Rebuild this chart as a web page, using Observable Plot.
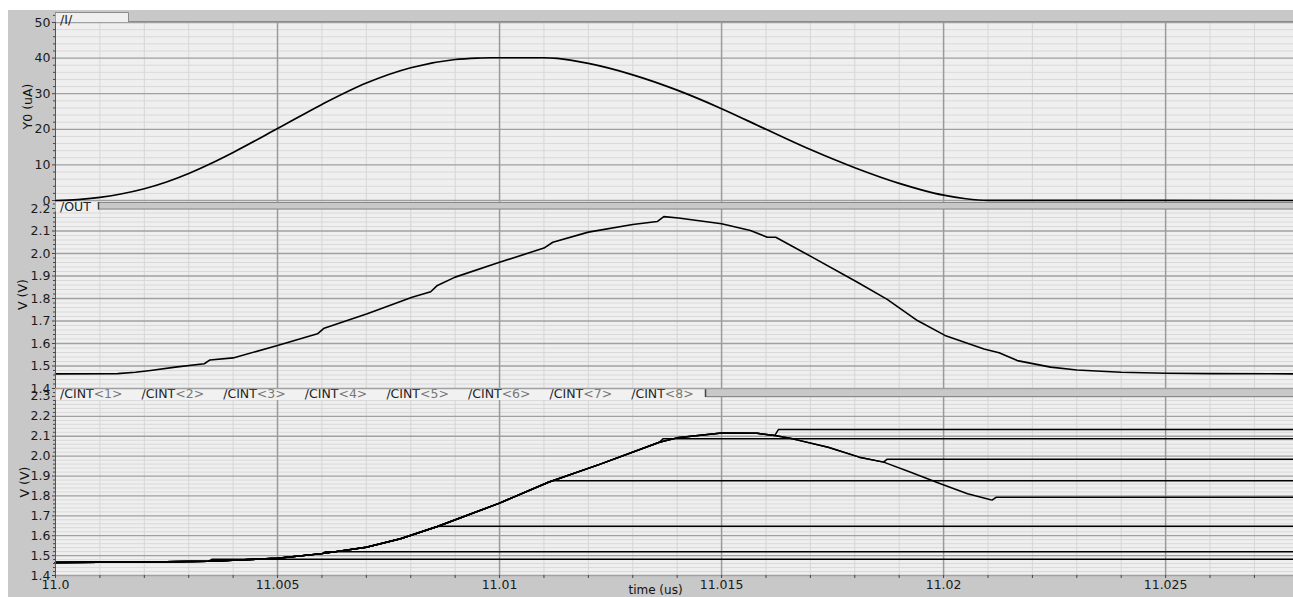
<!DOCTYPE html>
<html><head><meta charset="utf-8">
<script src="https://cdn.jsdelivr.net/npm/d3@7"></script>
<script src="https://cdn.jsdelivr.net/npm/@observablehq/plot@0.6"></script>
<style>
html,body{margin:0;padding:0;background:#fff;}
#wrap{position:absolute;left:8px;top:10px;width:1285px;height:587px;background:#c8c8c8;overflow:hidden;}
#wrap svg{position:absolute;left:0;}
</style></head><body><div id="wrap"></div>
<script>
// ---- axis ticks ----
const X0 = 11.0, X1 = 11.02788;
const xTicks = [11.0, 11.005, 11.01, 11.015, 11.02, 11.025];
const xTickLabels = ["11.0", "11.005", "11.01", "11.015", "11.02", "11.025"];
const xLabel = "time (us)";

const iTicks = [0, 10, 20, 30, 40, 50];
const iTickLabels = ["0", "10", "20", "30", "40", "50"];
const outTicks = [1.4, 1.5, 1.6, 1.7, 1.8, 1.9, 2.0, 2.1, 2.2];
const outTickLabels = ["1.4", "1.5", "1.6", "1.7", "1.8", "1.9", "2.0", "2.1", "2.2"];
const cintTicks = [1.4, 1.5, 1.6, 1.7, 1.8, 1.9, 2.0, 2.1, 2.2, 2.3];
const cintTickLabels = ["1.4", "1.5", "1.6", "1.7", "1.8", "1.9", "2.0", "2.1", "2.2", "2.3"];

// ---- panel 1: /I/ (uA) ----
const iTime = [11.0, 11.0005, 11.001, 11.0015, 11.002, 11.0025, 11.003, 11.0035, 11.004, 11.005, 11.006, 11.007, 11.008, 11.009, 11.0095, 11.0098, 11.011, 11.0113, 11.012, 11.013, 11.014, 11.015, 11.016, 11.017, 11.018, 11.019, 11.0195, 11.02, 11.0205, 11.021, 11.02788];
const iValue = [0, 0.25, 0.9, 1.9, 3.3, 5.2, 7.6, 10.4, 13.5, 20.2, 27, 33, 37.3, 39.6, 40, 40.1, 40.1, 39.9, 38.5, 35.3, 31, 25.8, 20, 14.3, 9.2, 4.8, 3, 1.5, 0.5, 0.05, 0];

// ---- panel 2: /OUT (V) ----
const outTime = [11.0, 11.0014, 11.0018, 11.00214, 11.0027, 11.00335, 11.00348, 11.004, 11.005, 11.0059, 11.00605, 11.00702, 11.00803, 11.00845, 11.0086, 11.009, 11.01, 11.011, 11.0112, 11.012, 11.013, 11.01355, 11.0137, 11.01403, 11.015, 11.01565, 11.01603, 11.01622, 11.01704, 11.01806, 11.01873, 11.01941, 11.02003, 11.02091, 11.02125, 11.02166, 11.02241, 11.023, 11.024, 11.025, 11.026, 11.02788];
const outValue = [1.465, 1.466, 1.472, 1.48, 1.495, 1.51, 1.527, 1.536, 1.591, 1.643, 1.668, 1.732, 1.806, 1.83, 1.858, 1.895, 1.961, 2.024, 2.05, 2.095, 2.129, 2.142, 2.164, 2.158, 2.132, 2.102, 2.072, 2.072, 1.984, 1.872, 1.796, 1.702, 1.636, 1.576, 1.559, 1.524, 1.495, 1.482, 1.472, 1.468, 1.466, 1.465];

// ---- panel 3: /CINT<k> (V) ----
const trackTime = [11.0, 11.002, 11.00345, 11.005, 11.006, 11.007, 11.00777, 11.0086, 11.01, 11.0111, 11.01227, 11.0136, 11.014, 11.015, 11.0158, 11.0162, 11.0166, 11.0174, 11.0181, 11.01865, 11.01926, 11.01993, 11.02054, 11.02106, 11.0211];
const trackValue = [1.465, 1.468, 1.472, 1.487, 1.51, 1.542, 1.585, 1.646, 1.764, 1.869, 1.96, 2.07, 2.092, 2.117, 2.115, 2.104, 2.087, 2.045, 1.995, 1.97, 1.919, 1.861, 1.811, 1.781, 1.78];
const cintNames = ["/CINT<1>", "/CINT<2>", "/CINT<3>", "/CINT<4>", "/CINT<5>", "/CINT<6>", "/CINT<7>", "/CINT<8>"];
const cintHoldTime = [11.00345, 11.006, 11.0086, 11.0111, 11.0136, 11.0162, 11.01865, 11.0211];
const cintHoldValue = [1.482, 1.52, 1.648, 1.877, 2.087, 2.134, 1.985, 1.793];

// ---- build tables ----
const iRows = iTime.map((t, i) => ({t, v: iValue[i]}));
const outRows = outTime.map((t, i) => ({t, v: outValue[i]}));
const cintRows = [];
cintNames.forEach((name, k) => {
  trackTime.forEach((t, i) => { if (t <= cintHoldTime[k] + 1e-9) cintRows.push({name, t, v: trackValue[i]}); });
  cintRows.push({name, t: cintHoldTime[k] + 0.00008, v: cintHoldValue[k]});
  cintRows.push({name, t: X1, v: cintHoldValue[k]});
});

const xMinor = d3.range(1, 28).map(i => 11 + i * 0.001).filter((t, i) => (i + 1) % 5 !== 0);
const BG = "#c8c8c8", PLOTBG = "#efefef";
const FONT = "DejaVu Sans, sans-serif";

function panel({yDomain, yTicks, yLabels, step, yLabel, labelDx, height, marginTop, marginBottom, marks, xAxis}) {
  const yMinor = d3.range(Math.round(yDomain[0] / step), Math.floor(yDomain[1] / step + 1e-6) + 1)
    .map(k => +(k * step).toFixed(4))
    .filter(v => !yTicks.some(t => Math.abs(t - v) < 1e-6));
  const extra = xAxis ? [
    Plot.axisX(xMinor, {tickSize: 3, tickFormat: () => "", label: null, stroke: "#444"}),
    Plot.axisX(xTicks, {tickSize: 3, tickPadding: 2, tickFormat: d => xTickLabels[xTicks.indexOf(d)], label: null, stroke: "#444", fontSize: 12.5, fill: "#1a1a1a"}),
    Plot.text([xLabel], {frameAnchor: "bottom", dx: -19, dy: 15, lineAnchor: "middle", fontSize: 12, fill: "#111"})
  ] : [];
  return Plot.plot({
    width: 1285, height, marginLeft: 47, marginRight: 0, marginTop, marginBottom,
    style: {background: "transparent", fontFamily: FONT, fontSize: "12px", color: "#111", overflow: "visible"},
    x: {domain: [X0, X1], axis: xAxis ? undefined : null},
    y: {domain: yDomain},
    marks: [
      Plot.frame({fill: PLOTBG, stroke: null}),
      Plot.ruleY(yMinor, {stroke: "#d9d9d9"}),
      Plot.ruleX(xMinor, {stroke: "#d6d6d6"}),
      Plot.ruleY(yTicks, {stroke: "#a0a0a0", strokeWidth: 1.3}),
      Plot.ruleX(xTicks.slice(1), {stroke: "#9a9a9a", strokeWidth: 1.5}),
      ...marks,
      Plot.ruleX([X0], {stroke: "#555"}),
      Plot.axisY(yMinor, {tickSize: 2, tickFormat: () => "", label: null, stroke: "#444"}),
      Plot.axisY(yTicks, {tickSize: 3, tickPadding: 2, tickFormat: d => yLabels[yTicks.indexOf(d)], label: null, stroke: "#444", fontSize: 12.5, fill: "#1a1a1a"}),
      Plot.text([yLabel], {frameAnchor: "left", dx: labelDx, rotate: -90, textAnchor: "middle", fontSize: 12.5, fill: "#111"}),
      ...extra
    ]
  });
}

const p1 = panel({yDomain: [0, 52.81], yTicks: iTicks, yLabels: iTickLabels, step: 2, yLabel: "Y0 (uA)", labelDx: -28,
  height: 195, marginTop: 2, marginBottom: 5,
  marks: [Plot.line(iRows, {x: "t", y: "v", stroke: "#000", strokeWidth: 1.7, curve: "monotone-x"})]});
const p2 = panel({yDomain: [1.4, 2.2356], yTicks: outTicks, yLabels: outTickLabels, step: 0.02, yLabel: "V (V)", labelDx: -33,
  height: 198, marginTop: 5, marginBottom: 5,
  marks: [Plot.line(outRows, {x: "t", y: "v", stroke: "#000", strokeWidth: 1.6})]});
const p3 = panel({yDomain: [1.4, 2.3402], yTicks: cintTicks, yLabels: cintTickLabels, step: 0.02, yLabel: "V (V)", labelDx: -31,
  height: 214, marginTop: 5, marginBottom: 22, xAxis: true,
  marks: [Plot.line(cintRows, {x: "t", y: "v", z: "name", stroke: "#000", strokeWidth: 1.5})]});

const wrap = document.getElementById("wrap");
p3.style.top = "373px"; p2.style.top = "185px"; p1.style.top = "0px";
wrap.append(p3, p2, p1);

// ---- signal name tabs ----
function label(g, x, y, parts) {
  const t = g.append("text").attr("x", x).attr("y", y).attr("text-anchor", "start")
    .attr("font-family", FONT).attr("font-size", 12.5);
  parts.forEach(([s, c]) => t.append("tspan").attr("fill", c).text(s));
}
// panel 1
{
  const g = d3.select(p1).append("g");
  g.append("rect").attr("x", 120).attr("y", 2).attr("width", 1165).attr("height", 9.5).attr("fill", BG);
  g.append("line").attr("x1", 120).attr("x2", 1285).attr("y1", 11.5).attr("y2", 11.5).attr("stroke", "#8a8a8a");
  g.append("rect").attr("x", 47.5).attr("y", 2.5).attr("width", 72.5).attr("height", 9.5).attr("fill", PLOTBG);
  g.append("path").attr("d", "M47.5,2.5H120.5V11.5").attr("fill", "none").attr("stroke", "#8a8a8a");
  label(g, 52, 13.5, [["/I/", "#222"]]);
}
// panel 2
{
  const g = d3.select(p2).append("g");
  g.append("rect").attr("x", 47.5).attr("y", 5.5).attr("width", 43).attr("height", 11).attr("fill", PLOTBG);
  g.append("rect").attr("x", 90.5).attr("y", 7.5).attr("width", 1200).attr("height", 6.5).attr("fill", BG).attr("stroke", "#888");
  g.append("line").attr("x1", 90.5).attr("x2", 90.5).attr("y1", 7).attr("y2", 14.5).attr("stroke", "#444").attr("stroke-width", 1.5);
  label(g, 52, 15.5, [["/OUT", "#222"]]);
}
// panel 3
{
  const g = d3.select(p3).append("g");
  g.append("rect").attr("x", 47.5).attr("y", 5.5).attr("width", 650).attr("height", 11.5).attr("fill", "#f1f1f1");
  g.append("rect").attr("x", 697.5).attr("y", 5.5).attr("width", 600).attr("height", 8).attr("fill", BG).attr("stroke", "#888");
  g.append("line").attr("x1", 697.5).attr("x2", 697.5).attr("y1", 5.5).attr("y2", 14).attr("stroke", "#444").attr("stroke-width", 1.5);
  cintNames.forEach((name, k) => {
    const m = name.match(/^(.*?)(<.*>)$/);
    label(g, 52 + k * 81.6, 15, [[m[1], "#222"], [m[2], "#777"]]);
  });
}
</script></body></html>
